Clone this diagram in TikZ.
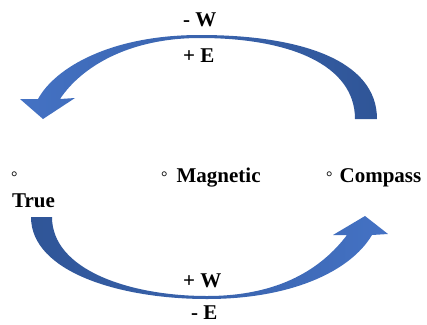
\documentclass[tikz,border=0pt]{standalone}
\usepackage{fontspec}
\setmainfont{Liberation Serif}
\definecolor{arrowlight}{HTML}{4472C4}
\definecolor{arrowdark}{HTML}{2F5597}
\tikzset{
  lbl/.style={font=\fontsize{21}{25}\selectfont\bfseries, inner sep=0pt, anchor=base west},
  degsign/.style={font=\fontsize{16}{16}\selectfont, inner sep=0pt, anchor=base west},
}
\newcommand{\smalldeg}{{\fontsize{16}{16}\selectfont\mdseries °}}
\begin{document}
\begin{tikzpicture}[x=1pt,y=-1pt]
\useasboundingbox (0,0) rectangle (427,324);
% top curved arrow (right to left)
\shade[left color=arrowlight, right color=arrowdark]
  (377,119) .. controls (377,60) and (300,35) .. (200,35)
  .. controls (110,35) and (55,68) .. (38,99)
  -- (20,99) -- (43,119) -- (75,98) -- (60,99)
  .. controls (82,66) and (130,38) .. (200,38)
  .. controls (290,38) and (355,65) .. (355,119) -- cycle;
% bottom curved arrow (left to right)
\shade[left color=arrowdark, right color=arrowlight]
  (31,217) .. controls (31,272) and (120,299) .. (207,299)
  .. controls (290,299) and (350,272) .. (372,235)
  -- (388,234) -- (365,216) -- (333,235) -- (347,235)
  .. controls (322,268) and (280,296) .. (207,296)
  .. controls (130,296) and (52,270) .. (52,217) -- cycle;
% labels
\node[lbl] (mw) at (183,26) {- W};
\node[lbl] (pe) at (183,62) {+ E};
\node[lbl] (pw) at (183,287) {+ W};
\node[lbl] (me) at (191,319) {- E};
\node[degsign] (tdeg) at (11,182) {°};
\node[lbl] (true) at (12,207) {True};
\node[lbl] (mag) at (161,182) {\smalldeg\hspace{9pt}Magnetic};
\node[lbl] (comp) at (326,182) {\smalldeg\hspace{7pt}Compass};
\end{tikzpicture}
\end{document}
